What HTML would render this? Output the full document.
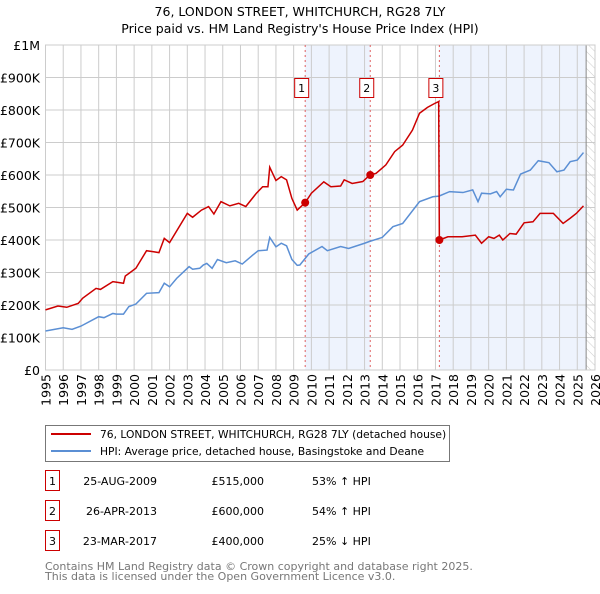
<!DOCTYPE html>
<html><head><meta charset="utf-8"><style>
body{margin:0;background:#fff;font-family:"DejaVu Sans","Liberation Sans",sans-serif;}
svg text{font-family:"DejaVu Sans","Liberation Sans",sans-serif;}
</style></head><body>
<svg id="c" width="600" height="590" xmlns="http://www.w3.org/2000/svg">
<defs><pattern id="hatch" width="6" height="6" patternUnits="userSpaceOnUse" patternTransform="rotate(-45)"><line x1="0" y1="0" x2="0" y2="6" stroke="#ccc" stroke-width="1"/></pattern></defs>
<text x="300" y="16" text-anchor="middle" font-size="12.5">76, LONDON STREET, WHITCHURCH, RG28 7LY</text>
<text x="300" y="33" text-anchor="middle" font-size="12.5">Price paid vs. HM Land Registry's House Price Index (HPI)</text>
<g id="plot"></g>
<g>
<rect x="45.5" y="425.5" width="404" height="36" fill="#fff" stroke="#777"/>
<line x1="51" y1="434" x2="91" y2="434" stroke="#cc0000" stroke-width="2"/>
<text x="100" y="438" font-size="10.7">76, LONDON STREET, WHITCHURCH, RG28 7LY (detached house)</text>
<line x1="51" y1="451" x2="91" y2="451" stroke="#5b8fd4" stroke-width="2"/>
<text x="100" y="455" font-size="10.7">HPI: Average price, detached house, Basingstoke and Deane</text>
</g>
<g id="table" font-size="11"></g>
<text x="45" y="570" font-size="11" fill="#777">Contains HM Land Registry data © Crown copyright and database right 2025.</text>
<text x="45" y="580" font-size="11" fill="#777">This data is licensed under the Open Government Licence v3.0.</text>
</svg>
<script>
const hpiYears=[1995.0,1996.0,1996.5,1997.0,1998.0,1998.3,1998.8,1999.0,1999.4,1999.7,2000.1,2000.7,2001.4,2001.7,2002.0,2002.4,2003.1,2003.3,2003.7,2003.9,2004.1,2004.4,2004.7,2005.2,2005.7,2006.1,2006.7,2007.0,2007.5,2007.65,2008.0,2008.3,2008.6,2008.9,2009.2,2009.35,2009.85,2010.6,2010.9,2011.65,2012.1,2013.0,2013.25,2014.0,2014.6,2015.15,2016.1,2016.85,2017.2,2017.8,2018.55,2019.1,2019.4,2019.6,2020.1,2020.45,2020.65,2021.0,2021.4,2021.8,2022.35,2022.8,2023.4,2023.85,2024.25,2024.6,2025.0,2025.35];
const hpiValues=[120,130,125,135,164,161,174,172,172,195,203,236,238,267,256,282,318,310,313,323,328,313,340,330,336,326,354,367,369,408,379,390,382,340,322,323,357,380,367,380,374,390,395,408,441,451,518,533,535,549,546,554,518,544,542,549,533,556,554,603,615,644,638,610,615,641,646,669];
const priceYears=[1995.0,1995.7,1996.2,1996.85,1997.1,1997.85,1998.1,1998.8,1999.4,1999.5,2000.1,2000.7,2001.1,2001.4,2001.7,2002.0,2003.0,2003.3,2003.8,2004.2,2004.5,2004.9,2005.4,2005.9,2006.3,2006.9,2007.25,2007.55,2007.65,2008.0,2008.3,2008.6,2008.9,2009.2,2009.65,2010.0,2010.7,2011.1,2011.65,2011.85,2012.3,2012.9,2013.3,2013.65,2014.2,2014.7,2015.15,2015.7,2016.1,2016.55,2016.95,2017.18,2017.22,2017.7,2018.5,2019.25,2019.6,2020.0,2020.3,2020.6,2020.8,2021.2,2021.55,2022.0,2022.5,2022.9,2023.65,2024.2,2024.6,2024.95,2025.35];
const priceValues=[185,197,193,205,221,251,248,272,267,289,313,367,364,361,405,392,482,470,492,503,480,518,505,513,503,544,564,564,624,583,595,585,528,492,515,544,579,564,566,585,574,580,600,605,631,672,692,738,790,808,820,826,400,410,410,415,390,410,405,415,400,420,418,453,456,482,482,451,467,482,505];
const yTicks=[0,100,200,300,400,500,600,700,800,900,1000];
const yTickLabels=["£0","£100K","£200K","£300K","£400K","£500K","£600K","£700K","£800K","£900K","£1M"];
const xTicks=[1995,1996,1997,1998,1999,2000,2001,2002,2003,2004,2005,2006,2007,2008,2009,2010,2011,2012,2013,2014,2015,2016,2017,2018,2019,2020,2021,2022,2023,2024,2025,2026];
const saleIds=["1","2","3"];
const saleYears=[2009.65,2013.32,2017.22];
const saleValues=[515,600,400];
const saleDates=["25-AUG-2009","26-APR-2013","23-MAR-2017"];
const salePrices=["£515,000","£600,000","£400,000"];
const saleHpi=["53% ↑ HPI","54% ↑ HPI","25% ↓ HPI"];

const NS="http://www.w3.org/2000/svg";
const X0=45.5,X1=595,Y0=370,Y1=45;
const xs=y=>X0+(y-1995)/(2026-1995)*(X1-X0);
const ys=v=>Y0-v/1000*(Y0-Y1);
const plot=document.getElementById('plot');
function mk(t,a,p){const e=document.createElementNS(NS,t);for(const k in a)e.setAttribute(k,a[k]);(p||plot).appendChild(e);return e;}

let e;
e=mk('rect',{x:X0,y:Y1,width:X1-X0,height:Y0-Y1,fill:'#fff'});
e=mk('rect',{x:xs(saleYears[0]),y:Y1,width:xs(saleYears[1])-xs(saleYears[0]),height:Y0-Y1,fill:'#eef3fd'});


e=mk('rect',{x:xs(saleYears[2]),y:Y1,width:xs(2025.5)-xs(saleYears[2]),height:Y0-Y1,fill:'#eef3fd'});


e=mk('rect',{x:xs(2025.5),y:Y1,width:X1-xs(2025.5),height:Y0-Y1,fill:'url(#hatch)'});


yTicks.forEach((v,i)=>{
  mk('line',{x1:X0,x2:X1,y1:ys(v),y2:ys(v),stroke:'#ccc','stroke-width':1});
  const t=mk('text',{x:40,y:ys(v)+5,'text-anchor':'end','font-size':12.5});
  t.textContent=yTickLabels[i];
  
  
});
xTicks.forEach(y=>{
  mk('line',{x1:xs(y),x2:xs(y),y1:Y1,y2:Y0,stroke:'#ccc','stroke-width':1});
  const t=mk('text',{x:0,y:0,'text-anchor':'end','font-size':12.5,transform:`translate(${xs(y)+5},374) rotate(-90)`});
  t.textContent=y;
  
  
});
mk('line',{x1:xs(2025.5),x2:xs(2025.5),y1:Y1,y2:Y0,stroke:'#888','stroke-width':1});
mk('rect',{x:X0,y:Y1,width:X1-X0,height:Y0-Y1,fill:'none',stroke:'#ccc'});
saleYears.forEach((y,i)=>{
  e=mk('line',{x1:xs(y),x2:xs(y),y1:Y1,y2:Y0,stroke:'#e06060','stroke-width':1,'stroke-dasharray':'2,3'});
  
  
});
e=mk('polyline',{points:hpiYears.map((y,i)=>xs(y)+','+ys(hpiValues[i])).join(' '),fill:'none',stroke:'#5b8fd4','stroke-width':1.5});


e=mk('polyline',{points:priceYears.map((y,i)=>xs(y)+','+ys(priceValues[i])).join(' '),fill:'none',stroke:'#cc0000','stroke-width':1.5});


saleYears.forEach((y,i)=>{
  e=mk('circle',{cx:xs(y),cy:ys(saleValues[i]),r:4,fill:'#cc0000'});
  
  
  const g=mk('g',{});
  
  
  mk('rect',{x:xs(y)-10.5,y:78.5,width:14,height:19,fill:'#fff',stroke:'#cc0000'},g);
  const t=mk('text',{x:xs(y)-3.5,y:92,'text-anchor':'middle','font-size':11},g);
  t.textContent=saleIds[i];
});
const tb=document.getElementById('table');
saleIds.forEach((id,i)=>{
  const y=483+i*30;
  const g=mk('g',{},tb);
  
  
  mk('rect',{x:45.5,y:y-12.5,width:14,height:20,fill:'#fff',stroke:'#cc0000'},g);
  let t=mk('text',{x:52.5,y:y+2,'text-anchor':'middle'},g);t.textContent=id;
  t=mk('text',{x:157,y:y+2,'text-anchor':'end'},g);t.textContent=saleDates[i];
  t=mk('text',{x:264,y:y+2,'text-anchor':'end'},g);t.textContent=salePrices[i];
  t=mk('text',{x:312,y:y+2},g);t.textContent=saleHpi[i];
});
</script>
</body></html>
